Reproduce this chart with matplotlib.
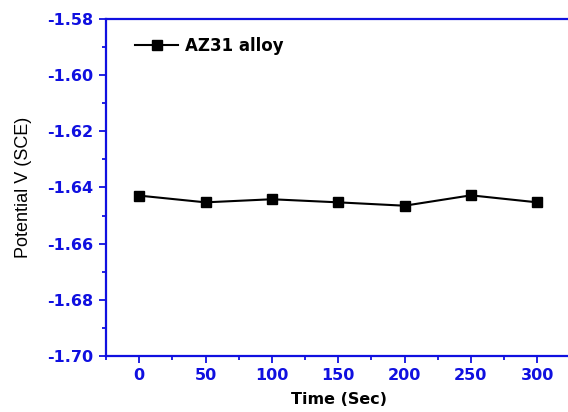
import numpy as np
import matplotlib.pyplot as plt
from matplotlib.ticker import MultipleLocator

plt.rcParams['font.family'] = ['DejaVu Sans']

time = [0, 50, 100, 150, 200, 250, 300]
potential = [-1.6429, -1.6453, -1.6442, -1.6453, -1.6465, -1.6428, -1.6453]

blue = '#1010e0'

fig = plt.figure(figsize=(5.68, 4.12), dpi=100)
ax = fig.add_axes([0.1866, 0.136, 0.82, 0.818])

ax.plot(time, potential, color='k', lw=1.5, marker='s', markersize=6.5, label='AZ31 alloy')

ax.set_xlim(-25, 326)
ax.set_ylim(-1.70, -1.58)
ax.xaxis.set_major_locator(MultipleLocator(50))
ax.xaxis.set_minor_locator(MultipleLocator(25))
ax.yaxis.set_major_locator(MultipleLocator(0.02))
ax.yaxis.set_minor_locator(MultipleLocator(0.01))
ax.yaxis.set_major_formatter(plt.FormatStrFormatter('%.2f'))

for s in ['left', 'bottom', 'top']:
    ax.spines[s].set_color(blue)
    ax.spines[s].set_linewidth(1.6)
ax.spines['right'].set_visible(False)

ax.tick_params(which='both', direction='out', colors=blue, width=1.3)
ax.tick_params(which='major', length=5, labelsize=11.5, pad=4)
ax.tick_params(which='minor', length=3)
for lab in ax.get_xticklabels() + ax.get_yticklabels():
    lab.set_fontweight('bold')

ax.set_xlabel('Time (Sec)', fontsize=11.5, fontweight='bold', labelpad=6)
ax.set_ylabel('Potential V (SCE)', fontsize=13, family='Liberation Sans', labelpad=11)

leg = ax.legend(loc='upper left', frameon=False, prop={'weight': 'bold', 'size': 12},
                bbox_to_anchor=(0.03, 0.99), handlelength=2.6, handletextpad=0.4)

fig.savefig('out.png', dpi=100)
